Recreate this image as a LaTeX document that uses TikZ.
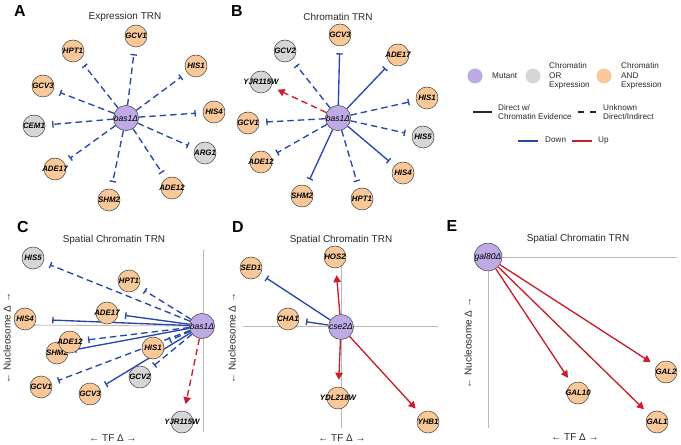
\documentclass[tikz,border=0pt]{standalone}
\usepackage{fontspec}
\setmainfont{Liberation Sans}
\usetikzlibrary{arrows.meta}
\pgfdeclarelayer{bg}
\pgfsetlayers{bg,main}
\definecolor{mut}{RGB}{190,170,228}
\definecolor{gry}{RGB}{214,214,214}
\definecolor{org}{RGB}{249,200,152}
\definecolor{eblue}{RGB}{38,72,172}
\definecolor{ered}{RGB}{200,30,45}
\definecolor{axisc}{RGB}{185,185,185}
\definecolor{txt}{RGB}{40,40,40}
\newcommand{\gn}[4]{\node[gene,fill=#4] (#1) at (#2) {};\node[gtext] (#1t) at (#1) {#3};}
\begin{document}
\begin{tikzpicture}[x=1bp,y=-1bp,
  gene/.style={circle,draw=black!75,line width=0.5bp,minimum size=22bp,inner sep=0pt},
  gtext/.style={inner sep=0pt,font=\fontsize{7.9}{8}\selectfont\bfseries\itshape},
  mutant/.style={circle,draw=black!75,line width=0.5bp,minimum size=25bp,inner sep=0pt,fill=mut,font=\fontsize{8.6}{9}\selectfont\itshape},
  down/.style={draw=eblue,line width=1.35bp,-{Bar[width=6.5bp,line width=1.35bp]},shorten >=7bp},
  up/.style={draw=ered,line width=1.35bp,-{Triangle[width=7.5bp,length=7bp]},shorten >=7bp},
  unk/.style={dash pattern=on 6.5bp off 4bp},
  ttl/.style={font=\fontsize{10}{12}\selectfont,text=txt},
  letter/.style={font=\fontsize{16}{18}\selectfont\bfseries},
  axl/.style={font=\fontsize{10}{12}\selectfont,text=txt},
  leg/.style={font=\fontsize{8.2}{9.2}\selectfont,text=txt,align=left,anchor=west,inner sep=0pt},
  axline/.style={draw=axisc,line width=0.8bp}
]
\useasboundingbox (0,0) rectangle (681,445);

% ---------- panel letters and titles
\node[letter] (LA) at (20,11) {A};
\node[letter] (LB) at (237,11) {B};
\node[letter] (LC) at (23,227) {C};
\node[letter] (LD) at (238,227) {D};
\node[letter] (LE) at (452,226) {E};
\node[ttl] (TA) at (125,17) {Expression TRN};
\node[ttl] (TB) at (338,17) {Chromatin TRN};
\node[ttl] (TC) at (114,240) {Spatial Chromatin TRN};
\node[ttl] (TD) at (341,240) {Spatial Chromatin TRN};
\node[ttl] (TE) at (578,239) {Spatial Chromatin TRN};

% ---------- panel A
\node[mutant] (A0) at (126,118) {bas1Δ};
\gn{A1}{136,36}{GCV1}{org}
\gn{A2}{73,51}{HPT1}{org}
\gn{A3}{196,66}{HIS1}{org}
\gn{A4}{43,86}{GCV3}{org}
\gn{A5}{214,112}{HIS4}{org}
\gn{A6}{34,126}{CEM1}{gry}
\gn{A7}{205,153}{ARG1}{gry}
\gn{A8}{55,169}{ADE17}{org}
\gn{A9}{172,188}{ADE12}{org}
\gn{A10}{109,200}{SHM2}{org}
\begin{pgfonlayer}{bg}
\foreach \t in {A1,A2,A3,A4,A5,A6,A7,A8,A9,A10}{\draw[down,unk] (A0) -- (\t);}
\end{pgfonlayer}

% ---------- panel B
\node[mutant] (B0) at (338,118) {bas1Δ};
\gn{B1}{340,35}{GCV3}{org}
\gn{B2}{285,51}{GCV2}{gry}
\gn{B3}{398,55}{ADE17}{org}
\gn{B4}{261,82}{YJR115W}{gry}
\gn{B5}{427,98}{HIS1}{org}
\gn{B6}{248,123}{GCV1}{org}
\gn{B7}{423,137}{HIS5}{gry}
\gn{B8}{261,162}{ADE12}{org}
\gn{B9}{403,173}{HIS4}{org}
\gn{B10}{302,196}{SHM2}{org}
\gn{B11}{362,199}{HPT1}{org}
\begin{pgfonlayer}{bg}
\foreach \t in {B1,B3,B9,B10}{\draw[down] (B0) -- (\t);}
\foreach \t in {B2,B5,B6,B7,B8,B11}{\draw[down,unk] (B0) -- (\t);}
\draw[up,unk] (B0) -- (B4);
\end{pgfonlayer}

% ---------- legend
\node[circle,fill=mut,minimum size=15bp,inner sep=0pt] (LG1) at (475,76) {};
\node[leg] (LG1t) at (492,76) {Mutant};
\node[circle,fill=gry,minimum size=15bp,inner sep=0pt] (LG2) at (533,76) {};
\node[leg] (LG2t) at (549,76) {Chromatin\\OR\\Expression};
\node[circle,fill=org,minimum size=15bp,inner sep=0pt] (LG3) at (604,76) {};
\node[leg] (LG3t) at (621,76) {Chromatin\\AND\\Expression};
\draw[txt,line width=1.3bp] (473,112) -- (492,112);
\node[leg] (LG4t) at (498,112) {Direct w/\\Chromatin Evidence};
\draw[txt,line width=1.3bp,dash pattern=on 6bp off 6bp] (578,112) -- (596,112);
\node[leg] (LG5t) at (603,112) {Unknown\\Direct/Indirect};
\draw[eblue,line width=1.2bp] (518,141) -- (538,141);
\node[leg] (LG6t) at (545,141) {Down\vphantom{Dp}};
\draw[ered,line width=1.2bp] (572,141) -- (592,141);
\node[leg] (LG7t) at (598,141) {Up\vphantom{Dp}};

% ---------- panel C
\node[mutant] (C0) at (202,326) {bas1Δ};
\gn{C1}{33,258}{HIS5}{gry}
\gn{C2}{129,281}{HPT1}{org}
\gn{C3}{107,313}{ADE17}{org}
\gn{C4}{25,319}{HIS4}{org}
\gn{C5}{57,353}{SHM2}{org}
\gn{C6}{70,342}{ADE12}{org}
\gn{C7}{153,348}{HIS1}{org}
\gn{C8}{140,377}{GCV2}{gry}
\gn{C9}{41,387}{GCV1}{org}
\gn{C10}{90,394}{GCV3}{org}
\gn{C11}{182,422}{YJR115W}{gry}
\node[axl] (CX) at (113,438) {← TF Δ →};
\node[axl,rotate=90] (CY) at (7,338) {← Nucleosome Δ →};
\begin{pgfonlayer}{bg}
\draw[axline] (203,250) -- (203,432);
\draw[axline] (15,325) -- (C0.west);
\foreach \t in {C3,C5,C10}{\draw[down] (C0) -- (\t);}
\draw[down,shorten >=16bp] (C0) -- (C4);
\foreach \t in {C1,C2,C6,C7,C8,C9}{\draw[down,unk] (C0) -- (\t);}
\draw[up,unk] (C0) -- (C11);
\end{pgfonlayer}

% ---------- panel D
\node[mutant] (D0) at (341,327) {cse2Δ};
\gn{D1}{335,257}{HOS2}{org}
\gn{D2}{251,268}{SED1}{org}
\gn{D3}{288,319}{CHA1}{org}
\gn{D4}{338,398}{YDL218W}{org}
\gn{D5}{428,422}{YHB1}{org}
\node[axl] (DX) at (342,438) {← TF Δ →};
\node[axl,rotate=90] (DY) at (232,338) {← Nucleosome Δ →};
\begin{pgfonlayer}{bg}
\draw[axline] (341,250) -- (341,428);
\draw[axline] (243,326) -- (438,326);
\draw[down] (D0) -- (D2);
\draw[down] (D0) -- (D3);
\draw[up] (D0) -- (D1);
\draw[up] (D0) -- (D4);
\draw[up] (D0) -- (D5);
\end{pgfonlayer}

% ---------- panel E
\node[mutant] (E0) at (488,257) {gal80Δ};
\gn{E1}{666,372}{GAL2}{org}
\gn{E2}{578,393}{GAL10}{org}
\gn{E3}{657,422}{GAL1}{org}
\node[axl] (EX) at (575,437) {← TF Δ →};
\node[axl,rotate=90] (EY) at (468,343) {← Nucleosome Δ →};
\begin{pgfonlayer}{bg}
\draw[axline] (488,257) -- (677,257);
\draw[axline] (488,257) -- (488,428);
\draw[up] (E0) -- (E1);
\draw[up] (E0) -- (E2);
\draw[up] (E0) -- (E3);
\end{pgfonlayer}
\end{tikzpicture}
\end{document}
